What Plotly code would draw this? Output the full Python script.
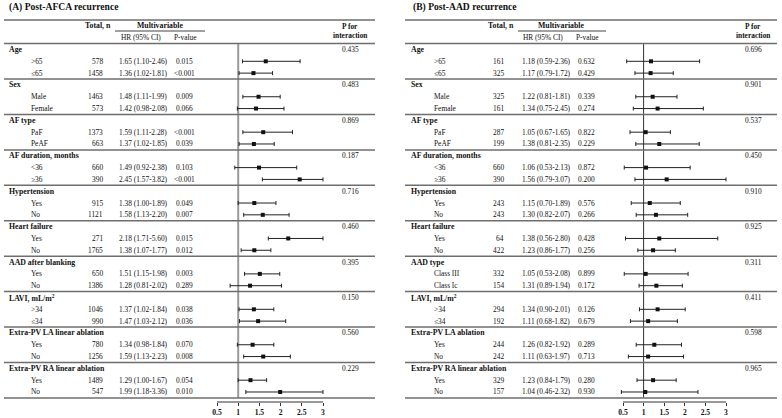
import numpy as np
import plotly.graph_objects as go

W, H = 782, 418
FONT = "Liberation Serif"

# ---- (A) Post-AFCA recurrence ----
groups_a = ["Age", "Sex", "AF type", "AF duration, months", "Hypertension", "Heart failure",
            "AAD after blanking", "LAVI, mL/m<sup>2</sup>", "Extra-PV LA linear ablation",
            "Extra-PV RA linear ablation"]
sub_a = [">65", "≤65", "Male", "Female", "PaF", "PeAF", "<36", "≥36", "Yes", "No",
         "Yes", "No", "Yes", "No", ">34", "≤34", "Yes", "No", "Yes", "No"]
n_a = [578, 1458, 1463, 573, 1373, 663, 660, 390, 915, 1121,
       271, 1765, 650, 1386, 1046, 990, 780, 1256, 1489, 547]
hr_a = [1.65, 1.36, 1.48, 1.42, 1.59, 1.37, 1.49, 2.45, 1.38, 1.58,
        2.18, 1.38, 1.51, 1.28, 1.37, 1.47, 1.34, 1.59, 1.29, 1.99]
lo_a = [1.10, 1.02, 1.11, 0.98, 1.11, 1.02, 0.92, 1.57, 1.00, 1.13,
        1.71, 1.07, 1.15, 0.81, 1.02, 1.03, 0.98, 1.13, 1.00, 1.18]
hi_a = [2.46, 1.81, 1.99, 2.08, 2.28, 1.85, 2.38, 3.82, 1.89, 2.20,
        5.60, 1.77, 1.98, 2.02, 1.84, 2.12, 1.84, 2.23, 1.67, 3.36]
p_a = ["0.015", "<0.001", "0.009", "0.066", "<0.001", "0.039", "0.103", "<0.001", "0.049", "0.007",
       "0.015", "0.012", "0.003", "0.289", "0.038", "0.036", "0.070", "0.008", "0.054", "0.010"]
pint_a = ["0.435", "0.483", "0.869", "0.187", "0.716", "0.460", "0.395", "0.150", "0.560", "0.229"]

# ---- (B) Post-AAD recurrence ----
groups_b = ["Age", "Sex", "AF type", "AF duration, months", "Hypertension", "Heart failure",
            "AAD type", "LAVI, mL/m<sup>2</sup>", "Extra-PV LA ablation",
            "Extra-PV RA linear ablation"]
sub_b = [">65", "≤65", "Male", "Female", "PaF", "PeAF", "<36", "≥36", "Yes", "No",
         "Yes", "No", "Class III", "Class Ic", ">34", "≤34", "Yes", "No", "Yes", "No"]
n_b = [161, 325, 325, 161, 287, 199, 660, 390, 243, 243,
       64, 422, 332, 154, 294, 192, 244, 242, 329, 157]
hr_b = [1.18, 1.17, 1.22, 1.34, 1.05, 1.38, 1.06, 1.56, 1.15, 1.30,
        1.38, 1.23, 1.05, 1.31, 1.34, 1.11, 1.26, 1.11, 1.23, 1.04]
lo_b = [0.59, 0.79, 0.81, 0.75, 0.67, 0.81, 0.53, 0.79, 0.70, 0.82,
        0.56, 0.86, 0.53, 0.89, 0.90, 0.68, 0.82, 0.63, 0.84, 0.46]
hi_b = [2.36, 1.72, 1.81, 2.45, 1.65, 2.35, 2.13, 3.07, 1.89, 2.07,
        2.80, 1.77, 2.08, 1.94, 2.01, 1.82, 1.92, 1.97, 1.79, 2.32]
p_b = ["0.632", "0.429", "0.339", "0.274", "0.822", "0.229", "0.872", "0.200", "0.576", "0.266",
       "0.428", "0.256", "0.899", "0.172", "0.126", "0.679", "0.289", "0.713", "0.280", "0.930"]
pint_b = ["0.696", "0.901", "0.537", "0.450", "0.910", "0.925", "0.311", "0.411", "0.598", "0.965"]

tick_vals = [0.5, 1, 1.5, 2, 2.5, 3]
tick_text = ["0.5", "1", "1.5", "2", "2.5", "3"]
x_max = 3

# row geometry: row r centre sits at pixel 49.5 + 11.81*r
ROW0, STEP = 49.5, 11.81
def r_of(py):
    return (py - ROW0) / STEP

panels = [
    dict(title="(A) Post-AFCA recurrence", groups=groups_a, sub=sub_a, n=n_a, hr=hr_a, lo=lo_a,
         hi=hi_a, p=p_a, pint=pint_a, ax="x", axname="xaxis", dom=(195, 345), px05=217, px3=323,
         title_x=7, lx0=4, lx1=375, cat_x=7, sub_x=29, n_x=105, hr_x=117, p_x=184,
         mv_x=160, ul=(115, 205), hrh_x=141, pvh_x=185, tot_x=98, pint_x=350,
         ref_col="#9a9a9a", ref_w=2),
    dict(title="(B) Post-AAD recurrence", groups=groups_b, sub=sub_b, n=n_b, hr=hr_b, lo=lo_b,
         hi=hi_b, p=p_b, pint=pint_b, ax="x2", axname="xaxis2", dom=(605, 745), px05=623, px3=726,
         title_x=411, lx0=405, lx1=777, cat_x=409, sub_x=432, n_x=506, hr_x=520, p_x=586,
         mv_x=561, ul=(518, 606), hrh_x=543, pvh_x=587, tot_x=501, pint_x=753,
         ref_col="#333333", ref_w=1),
]

fig = go.Figure()
ann = []
shapes = []

def txt(x_px, r, s, anchor="left", bold=False, size=7.4):
    ann.append(dict(x=x_px / W, xref="paper", y=r, yref="y", text=s, showarrow=False,
                    xanchor=anchor, yanchor="middle",
                    font=dict(family=FONT, size=size, color="#111",
                              weight="bold" if bold else "normal")))

def hline(x0, x1, py, color="#6e6e6e", width=1.5):
    shapes.append(dict(type="line", xref="paper", yref="y", x0=x0 / W, x1=x1 / W,
                       y0=r_of(py), y1=r_of(py), line=dict(color=color, width=width)))

axis_pos = 1 - 402 / H
BOLD = 7.8

for P in panels:
    ng = len(P["groups"])
    rows_sub = [3 * (i // 2) + 1 + (i % 2) for i in range(len(P["sub"]))]
    # title and header
    txt(P["title_x"], r_of(6.5), P["title"], bold=True, size=9.6)
    hline(P["lx0"], P["lx1"], 20)
    txt(P["tot_x"], r_of(25), "Total, n", "center", True, BOLD)
    txt(P["mv_x"], r_of(25), "Multivariable", "center", True, BOLD)
    hline(P["ul"][0], P["ul"][1], 31, "#444", 1)
    txt(P["hrh_x"], r_of(37.5), "HR (95% CI)", "center")
    txt(P["pvh_x"], r_of(37.5), "P-value", "center")
    txt(P["pint_x"], r_of(26.5), "P for", "center", True, 7.4)
    txt(P["pint_x"], r_of(35), "interaction", "center", True, 7.4)
    # separators
    for k in range(ng + 1):
        hline(P["lx0"], P["lx1"], ROW0 + STEP * (3 * k - 0.5))
    for g in range(ng):
        txt(P["cat_x"], 3 * g, P["groups"][g], bold=True, size=BOLD)
        txt(P["pint_x"], 3 * g, P["pint"][g], "center")
    for i, r in enumerate(rows_sub):
        txt(P["sub_x"], r, P["sub"][i])
        txt(P["n_x"], r, str(P["n"][i]), "right")
        txt(P["hr_x"], r, f"{P['hr'][i]:.2f} ({P['lo'][i]:.2f}-{P['hi'][i]:.2f})")
        txt(P["p_x"], r, P["p"][i], "center")

    hr = np.array(P["hr"])
    lo = np.array(P["lo"])
    hi = np.minimum(np.array(P["hi"]), x_max)
    fig.add_trace(go.Scatter(
        x=hr, y=rows_sub, xaxis=P["ax"], yaxis="y", mode="markers",
        marker=dict(symbol="square", size=4, color="#111"),
        error_x=dict(type="data", symmetric=False, array=hi - hr, arrayminus=hr - lo,
                     color="#222", thickness=1, width=2),
        showlegend=False, hoverinfo="skip"))

    # reference line at HR = 1 and the x axis baseline
    shapes.append(dict(type="line", xref=P["ax"], yref="y", x0=1, x1=1, y0=-0.5, y1=3 * ng - 0.5,
                       line=dict(color=P["ref_col"], width=P["ref_w"]), layer="below"))
    shapes.append(dict(type="line", xref=P["ax"], yref="paper", x0=tick_vals[0], x1=tick_vals[-1],
                       y0=axis_pos, y1=axis_pos, line=dict(color="#333", width=1)))

    scale = (P["px3"] - P["px05"]) / (tick_vals[-1] - tick_vals[0])
    rng = [tick_vals[0] - (P["px05"] - P["dom"][0]) / scale,
           tick_vals[-1] + (P["dom"][1] - P["px3"]) / scale]
    fig.update_layout(**{P["axname"]: dict(
        domain=[P["dom"][0] / W, P["dom"][1] / W], range=rng, anchor="free", position=axis_pos,
        showgrid=False, zeroline=False, showline=False, tickvals=tick_vals, ticktext=tick_text,
        ticks="outside", ticklen=3, tickcolor="#333", automargin=False,
        tickfont=dict(family=FONT, size=7.6, color="#111", weight="bold"))})

fig.update_layout(
    width=W, height=H, margin=dict(l=0, r=0, t=0, b=0, autoexpand=False),
    paper_bgcolor="white", plot_bgcolor="rgba(0,0,0,0)",
    yaxis=dict(domain=[0, 1], range=[r_of(H), r_of(0)], visible=False),
    annotations=ann, shapes=shapes,
)

fig.write_html("out.html", config={"displayModeBar": False},
               post_script="document.body.style.margin='0';")
